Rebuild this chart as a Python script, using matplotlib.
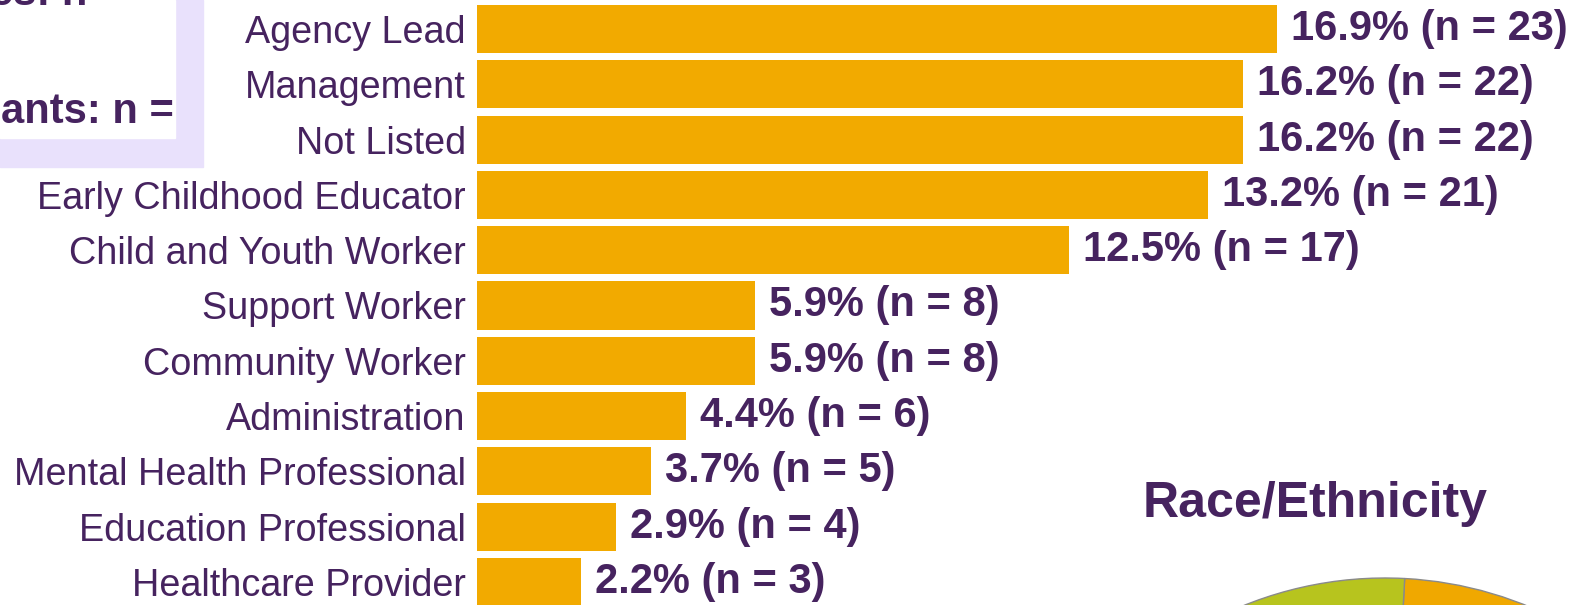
import matplotlib.pyplot as plt
from matplotlib.patches import Rectangle

PURPLE = '#46235F'
GOLD = '#F2AA00'
LAVENDER = '#E9E1FC'

roles = ['Agency Lead', 'Management', 'Not Listed', 'Early Childhood Educator',
         'Child and Youth Worker', 'Support Worker', 'Community Worker',
         'Administration', 'Mental Health Professional',
         'Education Professional', 'Healthcare Provider']
counts = [23, 22, 22, 21, 17, 8, 8, 6, 5, 4, 3]
percents = [16.9, 16.2, 16.2, 13.2, 12.5, 5.9, 5.9, 4.4, 3.7, 2.9, 2.2]

race_labels = ['Group A', 'Group B']
race_values = [30, 70]
race_colors = ['#F0A800', '#B7C41E']

plt.rcParams['font.family'] = ['Liberation Sans', 'DejaVu Sans']


def create_role_plot():
    fig = plt.figure(figsize=(15.75, 6.05), dpi=100)

    # left summary box, mostly cropped out of frame
    fig.patches.append(Rectangle((0, 1 - 167 / 605), 203 / 1575, 167 / 605,
                                 transform=fig.transFigure,
                                 color=LAVENDER, zorder=0))
    fig.patches.append(Rectangle((0, 1 - 138 / 605), 175 / 1575, 138 / 605,
                                 transform=fig.transFigure,
                                 color='white', zorder=0))
    fig.text(123 / 1575, 1 - 5 / 605, 'es: n =', ha='right',
             va='baseline', fontsize=30, fontweight='bold', color=PURPLE)
    fig.text(174 / 1575, 1 - 123 / 605, 'ants: n =', ha='right',
             va='baseline', fontsize=30, fontweight='bold', color=PURPLE)

    ax = fig.add_axes([477 / 1575, 0, 1 - 477 / 1575, 1])
    ax.set_facecolor('none')
    y = list(range(len(roles)))
    ax.barh(y, counts, height=0.87, color=GOLD)
    ax.set_ylim(10.416, -0.524)
    ax.set_xlim(0, 31.55)
    ax.set_yticks(y)
    ax.set_yticklabels(roles, fontsize=27.2, color=PURPLE)
    ax.tick_params(axis='y', length=0, pad=8)
    ax.set_xticks([])
    for s in ax.spines.values():
        s.set_visible(False)

    for i, (c, p) in enumerate(zip(counts, percents)):
        ax.annotate(f'{p}% (n = {c})', (c, i), xytext=(10, 0),
                    textcoords='offset points', va='center', ha='left',
                    fontsize=30, fontweight='bold', color=PURPLE)

    # next chart on the slide, only its title and top edge are visible
    fig.text(1315 / 1575, 1 - 517 / 605, 'Race/Ethnicity', ha='center',
             va='baseline', fontsize=36, fontweight='bold', color=PURPLE)
    pax = fig.add_axes([1009 / 1575, (605 - 1330) / 605, 752 / 1575, 752 / 605])
    pax.pie(race_values, colors=race_colors, startangle=87, counterclock=False,
            wedgeprops={'edgecolor': '#8a8a8a', 'linewidth': 1})
    pax.set_xlim(-1, 1)
    pax.set_ylim(-1, 1)
    pax.axis('off')

    fig.savefig('out.png', dpi=100)


def main():
    create_role_plot()


if __name__ == "__main__":
    main()
